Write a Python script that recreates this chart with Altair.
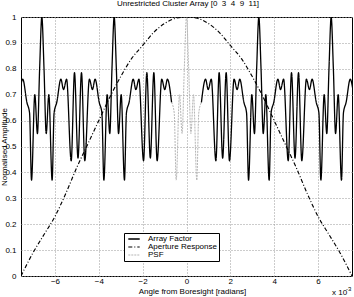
import altair as alt
import pandas as pd

FONT = "Liberation Sans"
NB = "\u00a0"

title_text = "Unrestricted Cluster Array [0" + NB * 2 + "3" + NB * 2 + "4" + NB * 2 + "9" + NB * 2 + "11]"
x_title = "Angle from Boresight [radians]"
y_title = "Normalised Amplitude"
x_ticks = [-6, -4, -2, 0, 2, 4, 6]
y_ticks = [0, 0.1, 0.2, 0.3, 0.4, 0.5, 0.6, 0.7, 0.8, 0.9, 1.0]
series_names = ["Array Factor", "Aperture Response", "PSF"]

# Array factor: grating-lobe centres and one half-period profile
lobe_centres = [-6.6, -3.3, 0.0, 3.3, 6.6]
half_offsets = [0.0, 0.10, 0.20, 0.32, 0.47, 0.56, 0.68, 0.87, 0.99, 1.13, 1.34, 1.49, 1.65]
half_amps = [1.0, 0.80, 0.55, 0.70, 0.37, 0.63, 0.67, 0.76, 0.72, 0.76, 0.445, 0.785, 0.455]
psf_limit = 0.68  # central region drawn as PSF

# Aperture response (left half, symmetric about 0)
aperture_x = [-7.55, -7.0, -6.5, -6.0, -5.5, -5.0, -4.5, -4.0, -3.5, -3.0, -2.5, -2.0, -1.5, -1.0, -0.5, 0.0]
aperture_y = [0.0, 0.09, 0.16, 0.23, 0.32, 0.42, 0.51, 0.60, 0.69, 0.77, 0.84, 0.89, 0.94, 0.975, 0.995, 1.0]

rows = []
seen = set()
for c in lobe_centres:
    for sgn in (-1, 1):
        for off, amp in zip(half_offsets, half_amps):
            x = round(c + sgn * off, 4)
            if abs(x) > 7.6 or x in seen:
                continue
            seen.add(x)
            if abs(x) <= psf_limit + 1e-9:
                rows.append({"x": x, "y": amp, "series": "PSF", "seg": "P"})
            if abs(x) >= psf_limit - 1e-9:
                rows.append({"x": x, "y": amp, "series": "Array Factor",
                             "seg": "L" if x < 0 else "R"})

for xv, yv in zip(aperture_x, aperture_y):
    rows.append({"x": xv, "y": yv, "series": "Aperture Response", "seg": "A"})
for xv, yv in zip(aperture_x[:-1], aperture_y[:-1]):
    rows.append({"x": -xv, "y": yv, "series": "Aperture Response", "seg": "A"})

df = pd.DataFrame(rows)

legend = alt.Legend(
    title=None, orient="none", legendX=103, legendY=216,
    fillColor="white", strokeColor="black", padding=2,
    symbolType="M-1.9,0H1.9", symbolSize=36, symbolStrokeWidth=1,
    symbolOffset=4, symbolFillColor="transparent",
    rowPadding=0, labelFont=FONT, labelFontSize=8, labelColor="black",
    labelOffset=10, labelLimit=200,
)

lines = alt.Chart(df).mark_line(clip=True, interpolate="monotone").encode(
    x=alt.X("x:Q", scale=alt.Scale(domain=[-7.55, 7.55], nice=False, zero=False),
            axis=alt.Axis(values=x_ticks, format="d", title=x_title, ticks=False,
                          labelPadding=1, titleX=171, titleY=15.5,
                          titleBaseline="middle", titleAlign="center",
                          titleFont=FONT, titleFontSize=8, titleFontWeight="normal")),
    y=alt.Y("y:Q", scale=alt.Scale(domain=[0, 1], nice=False),
            axis=alt.Axis(values=y_ticks, ticks=False, labelPadding=5,
                          labelExpr="datum.value == 0 ? '0' : (datum.value == 1 ? '1' : format(datum.value, '.1f'))",
                          title=y_title, titleX=-17, titleY=129.5, titleAngle=270,
                          titleAlign="center", titleBaseline="middle",
                          titleFont=FONT, titleFontSize=8, titleFontWeight="normal")),
    color=alt.Color("series:N", scale=alt.Scale(domain=series_names,
                    range=["black", "black", "#b5b5b5"]), legend=legend),
    strokeDash=alt.StrokeDash("series:N", scale=alt.Scale(domain=series_names,
                              range=[[1, 0], [4, 2, 1, 2], [2, 1]]), legend=legend),
    strokeWidth=alt.StrokeWidth("series:N", scale=alt.Scale(domain=series_names,
                                range=[1.3, 1.0, 1.0]), legend=None),
    detail="seg:N",
)

exp_main = alt.Chart(pd.DataFrame({"t": ["x 10"]})).mark_text(
    align="left", baseline="middle", font=FONT, fontSize=8, color="black"
).encode(x=alt.value(311), y=alt.value(276), text="t:N")

exp_sup = alt.Chart(pd.DataFrame({"t": ["-3"]})).mark_text(
    align="left", baseline="middle", font=FONT, fontSize=6, color="black"
).encode(x=alt.value(325), y=alt.value(272), text="t:N")

chart = alt.layer(lines, exp_main, exp_sup).properties(
    width=331, height=259,
    padding={"left": 21, "top": 17, "right": 2, "bottom": 21},
    autosize=alt.AutoSizeParams(type="none"),
    background="white",
    title=alt.TitleParams(text=title_text, font=FONT, fontSize=8,
                          fontWeight="normal", color="black", offset=5,
                          anchor="middle", dx=1.5),
).configure_view(
    stroke="black", strokeWidth=1
).configure_axis(
    domain=False, grid=True, gridColor="#999999", gridDash=[1, 2],
    gridWidth=1, labelFont=FONT, labelFontSize=8, labelColor="black",
    titleFont=FONT, titleFontSize=8, titleFontWeight="normal", titleColor="black",
)

chart.save("out.html", embed_options={"renderer": "svg", "actions": False})
